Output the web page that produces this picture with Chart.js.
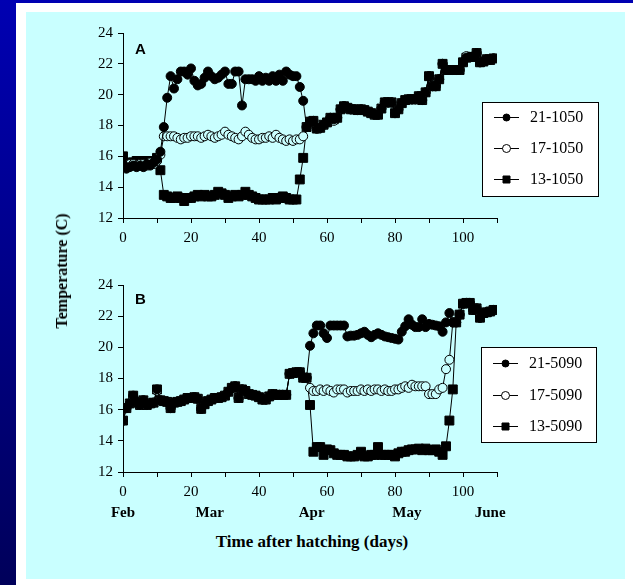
<!DOCTYPE html>
<html>
<head>
<meta charset="utf-8">
<script src="https://cdn.jsdelivr.net/npm/chart.js@4"></script>
<style>
  body { margin: 0; }
  #fondo { position: relative; width: 633px; height: 585px; overflow: hidden;
           background: linear-gradient(to bottom, #0000b2, #00005a); }
  #marco { position: absolute; left: 16px; top: 3px; right: 0; bottom: 0; background: #fff; }
  #panel { position: absolute; left: 26px; top: 12px; width: 599px; height: 567px; background: #c9ffff; }
  canvas { position: absolute; left: 26px; }
  #chartA { top: 12px; }
  #chartB { top: 265px; }
  .letra { position: absolute; font: bold 15px "Liberation Sans", Arial, sans-serif; color: #000; }
  #tituloY { position: absolute; left: 62px; top: 271px; transform: translate(-50%, -50%) rotate(-90deg);
             white-space: nowrap; font: bold 16px "Liberation Serif", "Times New Roman", serif; color: #000; }
  #tituloX { position: absolute; left: 312px; top: 542px; transform: translate(-50%, -50%);
             white-space: nowrap; font: bold 17px "Liberation Serif", "Times New Roman", serif; color: #000; }
</style>
</head>
<body>
<div id="fondo">
  <div id="marco"></div>
  <div id="panel"></div>
  <canvas id="chartA" width="599" height="240"></canvas>
  <canvas id="chartB" width="599" height="260"></canvas>
  <div class="letra" style="left:135px; top:40px;">A</div>
  <div class="letra" style="left:135px; top:290px;">B</div>
  <div id="tituloY">Temperature (C)</div>
  <div id="tituloX">Time after hatching (days)</div>
</div>
<script>
const dias = [0,1,2,3,4,5,6,7,8,9,10,11,12,13,14,15,16,17,18,19,20,21,22,23,24,25,26,27,28,29,
  30,31,32,33,34,35,36,37,38,39,40,41,42,43,44,45,46,47,48,49,50,51,52,53,54,55,56,57,58,59,
  60,61,62,63,64,65,66,67,68,69,70,71,72,73,74,75,76,77,78,79,80,81,82,83,84,85,86,87,88,89,
  90,91,92,93,94,95,96,97,98,99,100,101,102,103,104,105,106,107,108,109];

// panel A
const a21 = [15.5,15.2,15.3,15.4,15.3,15.4,15.3,15.5,15.4,15.6,
  15.8,16.3,17.9,19.8,21.2,20.4,21.0,21.5,21.5,21.3,
  21.7,20.9,20.6,20.7,21.1,21.5,21.2,21.0,21.1,21.3,
  21.5,20.7,20.7,21.5,21.5,19.3,21.0,21.0,21.0,20.9,
  21.2,20.9,21.1,20.9,21.2,20.9,21.3,20.9,21.5,21.3,
  21.2,21.2,20.5,19.6,17.9,18.25,18.3,17.8,17.85,18.05,
  18.2,18.5,18.4,18.5,19.05,19.25,19.15,19.05,19.05,19.0,
  19.05,19.0,18.9,18.8,18.7,18.7,19.1,19.5,19.5,19.5,
  18.8,19.05,19.45,19.65,19.7,19.7,19.7,19.9,19.65,20.15,
  21.2,20.55,20.55,21.0,22.0,21.6,21.6,21.6,21.6,21.6,
  22.1,22.4,22.45,22.45,22.7,22.1,22.15,22.3,22.25,22.35];
const a17 = [15.4,15.3,15.5,15.5,15.4,15.5,15.5,15.4,15.6,15.5,
  15.7,16.1,17.3,17.3,17.3,17.3,17.2,17.1,17.2,17.2,
  17.3,17.3,17.3,17.2,17.3,17.4,17.3,17.2,17.3,17.4,
  17.6,17.4,17.3,17.2,17.1,17.3,17.6,17.4,17.2,17.1,
  17.1,17.2,17.2,17.3,17.2,17.4,17.2,17.1,17.0,17.1,
  17.0,17.1,17.1,17.3,17.9,18.25,18.3,17.8,17.85,18.05,
  18.2,18.5,18.3,18.5,19.05,19.25,19.15,19.05,19.05,19.0,
  19.05,19.0,18.9,18.8,18.7,18.7,19.1,19.5,19.5,19.5,
  18.8,19.05,19.45,19.65,19.7,19.7,19.7,19.9,19.65,20.15,
  21.2,20.55,20.55,21.0,22.0,21.6,21.6,21.6,21.6,21.6,
  22.1,22.5,22.45,22.45,22.7,22.1,22.15,22.3,22.25,22.35];
const a13 = [16.0,15.5,15.6,15.6,15.7,15.6,15.7,15.6,15.7,15.7,
  15.9,15.1,13.5,13.4,13.3,13.3,13.4,13.3,13.1,13.3,
  13.3,13.4,13.5,13.4,13.5,13.4,13.4,13.5,13.7,13.6,
  13.5,13.3,13.4,13.5,13.4,13.5,13.7,13.5,13.4,13.3,
  13.2,13.2,13.2,13.2,13.3,13.2,13.3,13.4,13.3,13.2,
  13.2,13.2,14.5,15.9,17.9,18.25,18.3,17.8,17.85,18.05,
  18.2,18.5,18.4,18.5,19.05,19.25,19.15,19.05,19.05,19.0,
  19.05,19.0,18.9,18.8,18.7,18.7,19.1,19.5,19.5,19.5,
  18.8,19.05,19.45,19.65,19.7,19.7,19.7,19.9,19.65,20.15,
  21.2,20.55,20.55,21.0,22.0,21.6,21.6,21.6,21.6,21.6,
  22.1,22.4,22.45,22.45,22.7,22.1,22.15,22.3,22.25,22.35];

// panel B
const b21 = [15.3,16.1,16.4,16.9,16.5,16.3,16.6,16.3,16.4,16.45,
  17.3,16.6,16.55,16.5,16.1,16.45,16.5,16.55,16.65,16.75,
  16.75,16.8,16.7,16.05,16.35,16.55,16.65,16.75,16.75,16.8,
  16.9,17.15,17.4,17.5,16.75,17.3,17.2,17.0,16.95,16.9,
  16.8,16.65,16.65,16.85,17.0,16.95,16.95,16.95,16.95,18.3,
  18.35,18.4,18.4,18.05,18.05,20.1,20.9,21.4,21.4,20.9,
  20.6,21.4,21.4,21.4,21.4,21.4,20.7,20.75,20.75,20.8,
  20.9,21.0,20.8,20.65,20.8,20.9,20.8,20.7,20.65,20.6,
  20.55,20.5,21.0,21.35,21.8,21.45,21.3,21.3,21.8,21.3,
  21.5,21.45,21.4,21.35,21.0,21.6,22.2,21.6,21.6,22.1,
  22.8,22.85,22.85,22.4,22.5,21.9,22.2,22.25,22.3,22.4];
const b17 = [15.3,16.1,16.4,16.8,16.5,16.3,16.6,16.3,16.4,16.45,
  17.2,16.6,16.55,16.5,16.1,16.45,16.5,16.55,16.65,16.75,
  16.75,16.8,16.7,16.05,16.35,16.55,16.65,16.75,16.75,16.8,
  16.9,17.15,17.4,17.5,16.75,17.3,17.2,17.0,16.95,16.9,
  16.8,16.65,16.65,16.85,17.0,16.95,16.95,16.95,16.95,18.3,
  18.35,18.4,18.4,18.05,18.05,17.4,17.2,17.2,17.3,17.2,
  17.3,17.2,17.1,17.3,17.3,17.3,17.1,17.2,17.2,17.2,
  17.3,17.2,17.3,17.2,17.3,17.3,17.2,17.3,17.2,17.2,
  17.3,17.3,17.4,17.5,17.4,17.6,17.5,17.5,17.5,17.5,
  17.0,17.0,17.0,17.3,17.4,18.6,19.2,21.6,21.6,22.1,
  22.8,22.85,22.85,22.4,22.5,21.9,22.2,22.25,22.3,22.4];
const b13 = [15.3,16.1,16.4,16.9,16.5,16.3,16.6,16.3,16.4,16.45,
  17.3,16.6,16.55,16.5,16.1,16.45,16.5,16.55,16.65,16.75,
  16.75,16.8,16.7,16.05,16.35,16.55,16.65,16.75,16.75,16.8,
  16.9,17.15,17.4,17.5,16.75,17.3,17.2,17.0,16.95,16.9,
  16.8,16.65,16.65,16.85,17.0,16.95,16.95,16.95,16.95,18.3,
  18.35,18.4,18.4,18.05,18.05,16.3,13.3,13.6,13.6,13.1,
  13.45,13.4,13.2,13.1,13.1,13.1,13.0,13.0,13.0,13.1,
  13.3,13.0,13.0,13.1,13.1,13.6,13.1,13.1,13.1,13.1,
  13.0,13.2,13.3,13.3,13.4,13.45,13.45,13.5,13.4,13.5,
  13.4,13.4,13.45,13.3,13.1,13.65,15.3,17.3,21.6,22.1,
  22.8,22.85,22.85,22.4,22.5,21.9,22.2,22.25,22.3,22.4];

const etiquetasA = ['21-1050', '17-1050', '13-1050'];
const etiquetasB = ['21-5090', '17-5090', '13-5090'];
const ticksX = [0,10,20,30,40,50,60,70,80,90,100,110];
const ticksXConTexto = [0,20,40,60,80,100];
const ticksY = [12,14,16,18,20,22,24];
const meses = ['Feb', 'Mar', 'Apr', 'May', 'June'];
const mesesDias = [0, 25.5, 55.5, 83.5, 108];

const FONDO = '#c9ffff';
const serif = '"Liberation Serif", serif';

function serie(label, ys, estilo) {
  const puntos = dias.map((d, i) => ({ x: d, y: ys[i] }));
  const base = {
    label: label,
    data: puntos,
    borderColor: '#000',
    borderWidth: 1,
    pointBorderColor: '#000',
    pointBorderWidth: 1,
    tension: 0
  };
  if (estilo === 'lleno') {
    return Object.assign(base, { pointStyle: 'circle', pointRadius: 4.5, pointBackgroundColor: '#000' });
  }
  if (estilo === 'abierto') {
    return Object.assign(base, { pointStyle: 'circle', pointRadius: 4.5, pointBackgroundColor: FONDO });
  }
  return Object.assign(base, { pointStyle: 'rect', pointRadius: 6.3, pointBackgroundColor: '#000' });
}

// legend box drawn on the canvas
const cajaLeyenda = {
  id: 'cajaLeyenda',
  afterDraw(chart, args, opts) {
    const ctx = chart.ctx;
    ctx.save();
    ctx.fillStyle = '#fff';
    ctx.fillRect(opts.x, opts.y, opts.w, opts.h);
    ctx.strokeStyle = '#000';
    ctx.lineWidth = 1;
    ctx.strokeRect(opts.x + 0.5, opts.y + 0.5, opts.w, opts.h);
    chart.data.datasets.forEach((ds, i) => {
      const cy = Math.round(opts.y + opts.primera + i * opts.paso) + 0.5;
      const x0 = opts.x + 12, x1 = opts.x + 37, cx = opts.x + 24.5;
      ctx.strokeStyle = '#000';
      ctx.beginPath();
      ctx.moveTo(x0, cy);
      ctx.lineTo(x1, cy);
      ctx.stroke();
      ctx.beginPath();
      if (ds.pointStyle === 'rect') {
        ctx.rect(cx - 3.5, cy - 3.5, 7, 7);
        ctx.fillStyle = '#000';
      } else {
        ctx.arc(cx, cy, ds.pointBackgroundColor === '#000' ? 3.5 : 4, 0, Math.PI * 2);
        ctx.fillStyle = ds.pointBackgroundColor === '#000' ? '#000' : '#fff';
      }
      ctx.fill();
      ctx.stroke();
      ctx.fillStyle = '#000';
      ctx.font = '16px "Liberation Serif"';
      ctx.textBaseline = 'middle';
      ctx.textAlign = 'left';
      ctx.fillText(ds.label, opts.x + 48, cy);
    });
    ctx.restore();
  }
};

// month names under the day axis of panel B
const filaMeses = {
  id: 'filaMeses',
  afterDraw(chart) {
    const ctx = chart.ctx;
    const escala = chart.scales.x;
    ctx.save();
    ctx.fillStyle = '#000';
    ctx.font = 'bold 15px "Liberation Serif"';
    ctx.textAlign = 'center';
    ctx.textBaseline = 'middle';
    meses.forEach((m, i) => {
      ctx.fillText(m, escala.getPixelForValue(mesesDias[i]), 248);
    });
    ctx.restore();
  }
};

function opciones(altoX, arriba, leyenda) {
  return {
    responsive: false,
    animation: false,
    layout: { padding: { left: 0, right: 128, top: arriba, bottom: 0 } },
    plugins: {
      legend: { display: false },
      tooltip: { enabled: false },
      cajaLeyenda: leyenda
    },
    scales: {
      x: {
        type: 'linear',
        min: 0,
        max: 110,
        afterFit: s => { s.height = altoX; },
        afterBuildTicks: s => { s.ticks = ticksX.map(v => ({ value: v })); },
        ticks: {
          autoSkip: false,
          maxRotation: 0,
          padding: 6,
          color: '#000',
          font: { family: serif, size: 15 },
          callback: v => ticksXConTexto.includes(v) ? String(v) : ''
        },
        grid: { drawOnChartArea: false, drawTicks: true, tickLength: 5, color: '#000', lineWidth: 1 },
        border: { display: true, color: '#000', width: 1 }
      },
      y: {
        min: 12,
        max: 24,
        afterFit: s => { s.width = 97; },
        afterBuildTicks: s => { s.ticks = ticksY.map(v => ({ value: v })); },
        ticks: {
          padding: 5,
          color: '#000',
          font: { family: serif, size: 15 }
        },
        grid: { drawOnChartArea: false, drawTicks: true, tickLength: 5, color: '#000', lineWidth: 1 },
        border: { display: true, color: '#000', width: 1 }
      }
    }
  };
}

document.addEventListener('DOMContentLoaded', () => {
  new Chart(document.getElementById('chartA').getContext('2d'), {
    type: 'line',
    data: {
      datasets: [
        serie(etiquetasA[0], a21, 'lleno'),
        serie(etiquetasA[1], a17, 'abierto'),
        serie(etiquetasA[2], a13, 'cuadro')
      ]
    },
    options: opciones(34, 21, { x: 456, y: 90, w: 116, h: 94, primera: 15, paso: 31 }),
    plugins: [cajaLeyenda]
  });

  new Chart(document.getElementById('chartB').getContext('2d'), {
    type: 'line',
    data: {
      datasets: [
        serie(etiquetasB[0], b21, 'lleno'),
        serie(etiquetasB[1], b17, 'abierto'),
        serie(etiquetasB[2], b13, 'cuadro')
      ]
    },
    options: opciones(53, 20, { x: 455, y: 82, w: 115, h: 95, primera: 16, paso: 31.5 }),
    plugins: [cajaLeyenda, filaMeses]
  });
});
</script>
</body>
</html>
